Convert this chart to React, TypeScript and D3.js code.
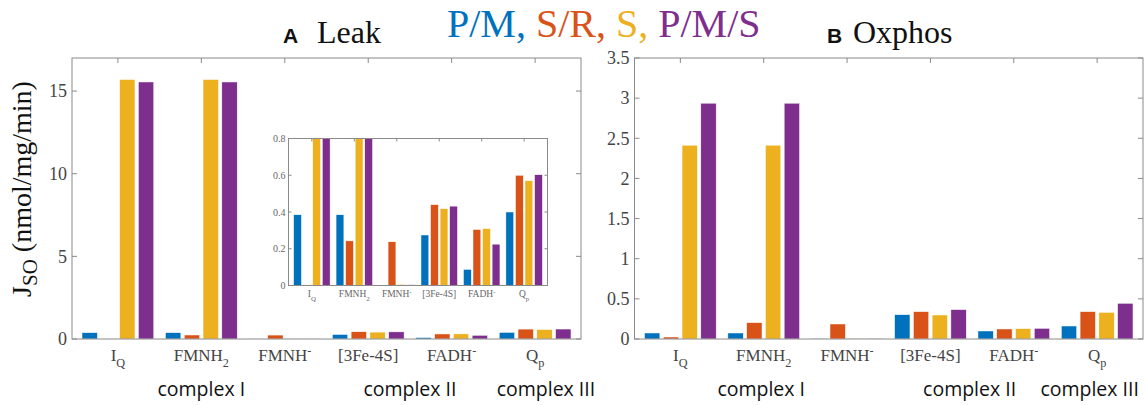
import React, { useEffect, useRef } from 'react';
import * as d3 from 'd3';

// category labels: base text + subscript / superscript
const labelBase = ['I', 'FMNH', 'FMNH', '[3Fe-4S]', 'FADH', 'Q'];
const labelSub = ['Q', '2', '', '', '', 'p'];
const labelSup = ['', '', '-', '', '-', ''];

const seriesNames = ['P/M', 'S/R', 'S', 'P/M/S'];
const seriesColors = ['#0072BD', '#D95319', '#EDB120', '#7E2F8E'];

// A Leak
const leakPM = [0.385, 0.385, 0.002, 0.275, 0.088, 0.4];
const leakSR = [0.003, 0.243, 0.238, 0.44, 0.305, 0.6];
const leakS = [15.7, 15.7, 0.006, 0.418, 0.31, 0.57];
const leakPMS = [15.55, 15.55, 0.004, 0.432, 0.225, 0.603];

// B Oxphos
const oxPM = [0.075, 0.075, 0.003, 0.303, 0.1, 0.162];
const oxSR = [0.025, 0.204, 0.187, 0.341, 0.125, 0.341];
const oxS = [2.414, 2.414, 0.003, 0.299, 0.129, 0.332];
const oxPMS = [2.937, 2.937, 0.003, 0.366, 0.133, 0.445];

const leakTicks = [0, 5, 10, 15];
const oxTicks = [0, 0.5, 1, 1.5, 2, 2.5, 3, 3.5];
const insetTicks = [0, 0.2, 0.4, 0.6, 0.8];

const complexNames = ['complex I', 'complex II', 'complex III'];
const complexPosA = [2, 4.5, 6.13];
const complexPosB = [1.97, 4.47, 5.91];

const SERIF = '"Liberation Serif", "Times New Roman", serif';
const SANS = '"Liberation Sans", Arial, sans-serif';

const drawPanel = (svg, o) => {
  const g = svg.append('g');
  const x = d3.scaleLinear().domain([0.45, 6.55]).range([o.left, o.right]);
  const y = d3.scaleLinear().domain([0, o.yMax]).range([o.bottom, o.top]);
  const sub = d3.scaleBand().domain(d3.range(seriesNames.length)).range([-0.43, 0.43]).paddingInner(0.18);
  const bw = x(sub.bandwidth()) - x(0);

  g.append('rect')
    .attr('x', o.left).attr('y', o.top)
    .attr('width', o.right - o.left).attr('height', o.bottom - o.top)
    .attr('fill', 'white');

  const clipId = 'clip' + o.id;
  g.append('clipPath').attr('id', clipId)
    .append('rect')
    .attr('x', o.left).attr('y', o.top)
    .attr('width', o.right - o.left).attr('height', o.bottom - o.top);

  const cells = o.data.flatMap((vals, s) => vals.map((v, c) => ({ s, c, v })));
  g.append('g').attr('clip-path', `url(#${clipId})`)
    .selectAll('rect')
    .data(cells)
    .enter()
    .append('rect')
    .attr('x', d => x(d.c + 1 + sub(d.s)))
    .attr('y', d => y(d.v))
    .attr('width', bw)
    .attr('height', d => Math.max(0.8, y(0) - y(d.v)))
    .attr('fill', d => seriesColors[d.s])
    .attr('stroke', 'white')
    .attr('stroke-width', 0.5);

  // box
  g.append('rect')
    .attr('x', o.left).attr('y', o.top)
    .attr('width', o.right - o.left).attr('height', o.bottom - o.top)
    .attr('fill', 'none').attr('stroke', '#8a8a8a').attr('stroke-width', 1);

  // y ticks (inward, mirrored)
  o.ticks.forEach(t => {
    g.append('line').attr('x1', o.left).attr('x2', o.left + o.tickLen)
      .attr('y1', y(t)).attr('y2', y(t)).attr('stroke', '#8a8a8a');
    g.append('line').attr('x1', o.right).attr('x2', o.right - o.tickLen)
      .attr('y1', y(t)).attr('y2', y(t)).attr('stroke', '#8a8a8a');
    g.append('text')
      .attr('x', o.left - o.tickPad)
      .attr('y', y(t))
      .attr('dy', '0.35em')
      .attr('text-anchor', 'end')
      .attr('font-family', SERIF)
      .attr('font-size', o.tickFont)
      .attr('fill', o.tickColor)
      .text(String(t));
  });

  // x ticks at top, category labels below
  labelBase.forEach((lb, c) => {
    g.append('line').attr('x1', x(c + 1)).attr('x2', x(c + 1))
      .attr('y1', o.top).attr('y2', o.top + o.tickLen).attr('stroke', '#8a8a8a');
    const t = g.append('text')
      .attr('x', x(c + 1))
      .attr('y', o.labelY)
      .attr('text-anchor', 'middle')
      .attr('font-family', SERIF)
      .attr('font-size', o.labelFont)
      .attr('fill', o.tickColor);
    t.append('tspan').text(lb);
    if (labelSub[c]) {
      t.append('tspan').attr('dy', o.labelFont * 0.38).attr('font-size', o.labelFont * 0.72).text(labelSub[c]);
    }
    if (labelSup[c]) {
      t.append('tspan').attr('dy', -o.labelFont * 0.35).attr('font-size', o.labelFont * 0.72).text(labelSup[c]);
    }
  });

  return x;
};

const App = () => {
  const ref = useRef(null);

  useEffect(() => {
    const svg = d3.select(ref.current);
    svg.selectAll('*').remove();

    const leakData = [leakPM, leakSR, leakS, leakPMS];
    const oxData = [oxPM, oxSR, oxS, oxPMS];

    const xa = drawPanel(svg, {
      id: 'a', left: 72, right: 581, top: 58, bottom: 339, yMax: 17,
      ticks: leakTicks, data: leakData, tickLen: 5, tickPad: 5,
      tickFont: 18, labelFont: 17, labelY: 361, tickColor: '#444'
    });
    const xb = drawPanel(svg, {
      id: 'b', left: 634.5, right: 1143, top: 58, bottom: 339, yMax: 3.5,
      ticks: oxTicks, data: oxData, tickLen: 5, tickPad: 5,
      tickFont: 18, labelFont: 17, labelY: 361, tickColor: '#444'
    });
    // inset: zoom of the leak panel
    drawPanel(svg, {
      id: 'inset', left: 288.5, right: 547.5, top: 138.5, bottom: 285.5, yMax: 0.8,
      ticks: insetTicks, data: leakData, tickLen: 3, tickPad: 3,
      tickFont: 10, labelFont: 9.5, labelY: 297, tickColor: '#666'
    });

    // complex labels
    [[xa, complexPosA], [xb, complexPosB]].forEach(([x, pos]) => {
      complexNames.forEach((n, i) => {
        svg.append('text')
          .attr('x', x(pos[i]))
          .attr('y', 396)
          .attr('text-anchor', 'middle')
          .attr('font-family', '"Open Sans", Lato, sans-serif')
          .attr('font-size', 19.5)
          .attr('fill', '#111')
          .text(n);
      });
    });

    // y label
    const yl = svg.append('text')
      .attr('transform', 'translate(31,189) rotate(-90)')
      .attr('text-anchor', 'middle')
      .attr('font-family', SERIF)
      .attr('font-size', 28)
      .attr('fill', '#111');
    yl.append('tspan').text('J');
    yl.append('tspan').attr('dy', 6).attr('font-size', 21).text('SO');
    yl.append('tspan').attr('dy', -6).text(' (nmol/mg/min)');

    // panel titles
    const titles = [['A', 'Leak', 283, 317], ['B', 'Oxphos', 827, 853]];
    titles.forEach(([k, name, xk, xn]) => {
      svg.append('text').attr('x', xk).attr('y', 43)
        .attr('font-family', SANS).attr('font-weight', 'bold').attr('font-size', 21)
        .attr('fill', '#111').text(k);
      svg.append('text').attr('x', xn).attr('y', 43)
        .attr('font-family', SERIF).attr('font-size', 32)
        .attr('fill', '#111').text(name);
    });

    // colored legend line
    const lg = svg.append('text').attr('x', 447).attr('y', 37)
      .attr('font-family', SERIF).attr('font-size', 40);
    seriesNames.forEach((n, i) => {
      lg.append('tspan').attr('fill', seriesColors[i])
        .text(i < seriesNames.length - 1 ? n + ', ' : n);
    });
  }, []);

  return (
    <svg ref={ref} width={1145} height={405}
      style={{ position: 'absolute', left: 0, top: 0, background: 'white' }} />
  );
};

export default App;
